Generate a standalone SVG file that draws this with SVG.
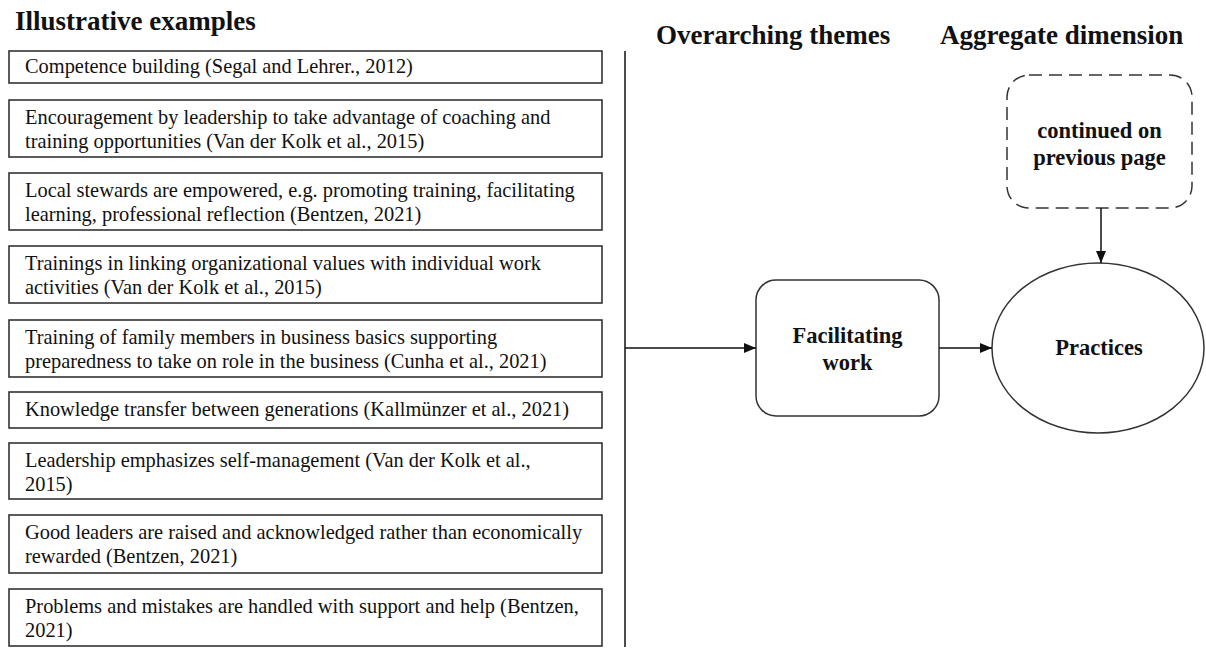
<svg xmlns="http://www.w3.org/2000/svg" width="1206" height="652" viewBox="0 0 1206 652">
  <defs>
    <marker id="arrow" viewBox="0 0 12 10" refX="12" refY="5" markerWidth="12" markerHeight="10" markerUnits="userSpaceOnUse" orient="auto">
      <path d="M0,0 L12,5 L0,10 Z" fill="#111"/>
    </marker>
    <style>
      .hdr { font-family: "Liberation Serif", "Times New Roman", serif; font-weight: bold; font-size: 27px; fill: #111; }
      .ex rect { fill: #fff; stroke: #333; stroke-width: 1.6; }
      .ex text { font-family: "Liberation Serif", "Times New Roman", serif; font-size: 20.4px; fill: #111; }
      .node { fill: #fff; stroke: #333; stroke-width: 1.5; }
      .dash { fill: #fff; stroke: #333; stroke-width: 1.5; stroke-dasharray: 13 7; }
      .lbl { font-family: "Liberation Serif", "Times New Roman", serif; font-weight: bold; font-size: 22.5px; fill: #111; text-anchor: middle; }
      .conn { fill: none; stroke: #111; stroke-width: 1.5; }
    </style>
  </defs>
  <rect width="1206" height="652" fill="#fff"/>

  <!-- column headings -->
  <text class="hdr" x="15" y="30">Illustrative examples</text>
  <text class="hdr" x="656" y="44">Overarching themes</text>
  <text class="hdr" x="940" y="44">Aggregate dimension</text>

  <!-- illustrative example boxes -->
  <g id="ex1" class="ex">
    <rect x="9" y="51" width="593" height="32"/>
    <text x="25" y="73">Competence building (Segal and Lehrer., 2012)</text>
  </g>
  <g id="ex2" class="ex">
    <rect x="9" y="100" width="593" height="57"/>
    <text x="25" y="124">Encouragement by leadership to take advantage of coaching and</text>
    <text x="25" y="148">training opportunities (Van der Kolk et al., 2015)</text>
  </g>
  <g id="ex3" class="ex">
    <rect x="9" y="173" width="593" height="57"/>
    <text x="25" y="197">Local stewards are empowered, e.g. promoting training, facilitating</text>
    <text x="25" y="221">learning, professional reflection (Bentzen, 2021)</text>
  </g>
  <g id="ex4" class="ex">
    <rect x="9" y="246" width="593" height="57"/>
    <text x="25" y="270">Trainings in linking organizational values with individual work</text>
    <text x="25" y="294">activities (Van der Kolk et al., 2015)</text>
  </g>
  <g id="ex5" class="ex">
    <rect x="9" y="320" width="593" height="57"/>
    <text x="25" y="344">Training of family members in business basics supporting</text>
    <text x="25" y="368">preparedness to take on role in the business (Cunha et al., 2021)</text>
  </g>
  <g id="ex6" class="ex">
    <rect x="9" y="392" width="593" height="36"/>
    <text x="25" y="416">Knowledge transfer between generations (Kallmünzer et al., 2021)</text>
  </g>
  <g id="ex7" class="ex">
    <rect x="9" y="443" width="593" height="56"/>
    <text x="25" y="467">Leadership emphasizes self-management (Van der Kolk et al.,</text>
    <text x="25" y="491">2015)</text>
  </g>
  <g id="ex8" class="ex">
    <rect x="9" y="515" width="593" height="58"/>
    <text x="25" y="539">Good leaders are raised and acknowledged rather than economically</text>
    <text x="25" y="563">rewarded (Bentzen, 2021)</text>
  </g>
  <g id="ex9" class="ex">
    <rect x="9" y="589" width="593" height="57"/>
    <text x="25" y="613">Problems and mistakes are handled with support and help (Bentzen,</text>
    <text x="25" y="637">2021)</text>
  </g>

  <!-- theme -->
  <g id="theme">
    <rect class="node" x="756" y="280" width="183" height="136" rx="20"/>
    <text class="lbl" x="847.5" y="343">Facilitating</text>
    <text class="lbl" x="847.5" y="370">work</text>
  </g>

  <!-- continuation marker -->
  <g id="continued">
    <rect class="dash" x="1007" y="75" width="185" height="133" rx="22"/>
    <text class="lbl" x="1099.5" y="138">continued on</text>
    <text class="lbl" x="1099.5" y="165">previous page</text>
  </g>

  <!-- aggregate dimension -->
  <g id="dimension">
    <ellipse class="node" cx="1098" cy="348" rx="106" ry="85"/>
    <text class="lbl" x="1099" y="355">Practices</text>
  </g>

  <!-- connectors -->
  <g id="connectors">
    <line class="conn" x1="625" y1="51" x2="625" y2="647"/>
    <line class="conn" x1="625" y1="348" x2="756" y2="348" marker-end="url(#arrow)"/>
    <line class="conn" x1="939" y1="348" x2="992" y2="348" marker-end="url(#arrow)"/>
    <line class="conn" x1="1101" y1="208" x2="1101" y2="263" marker-end="url(#arrow)"/>
  </g>
</svg>
